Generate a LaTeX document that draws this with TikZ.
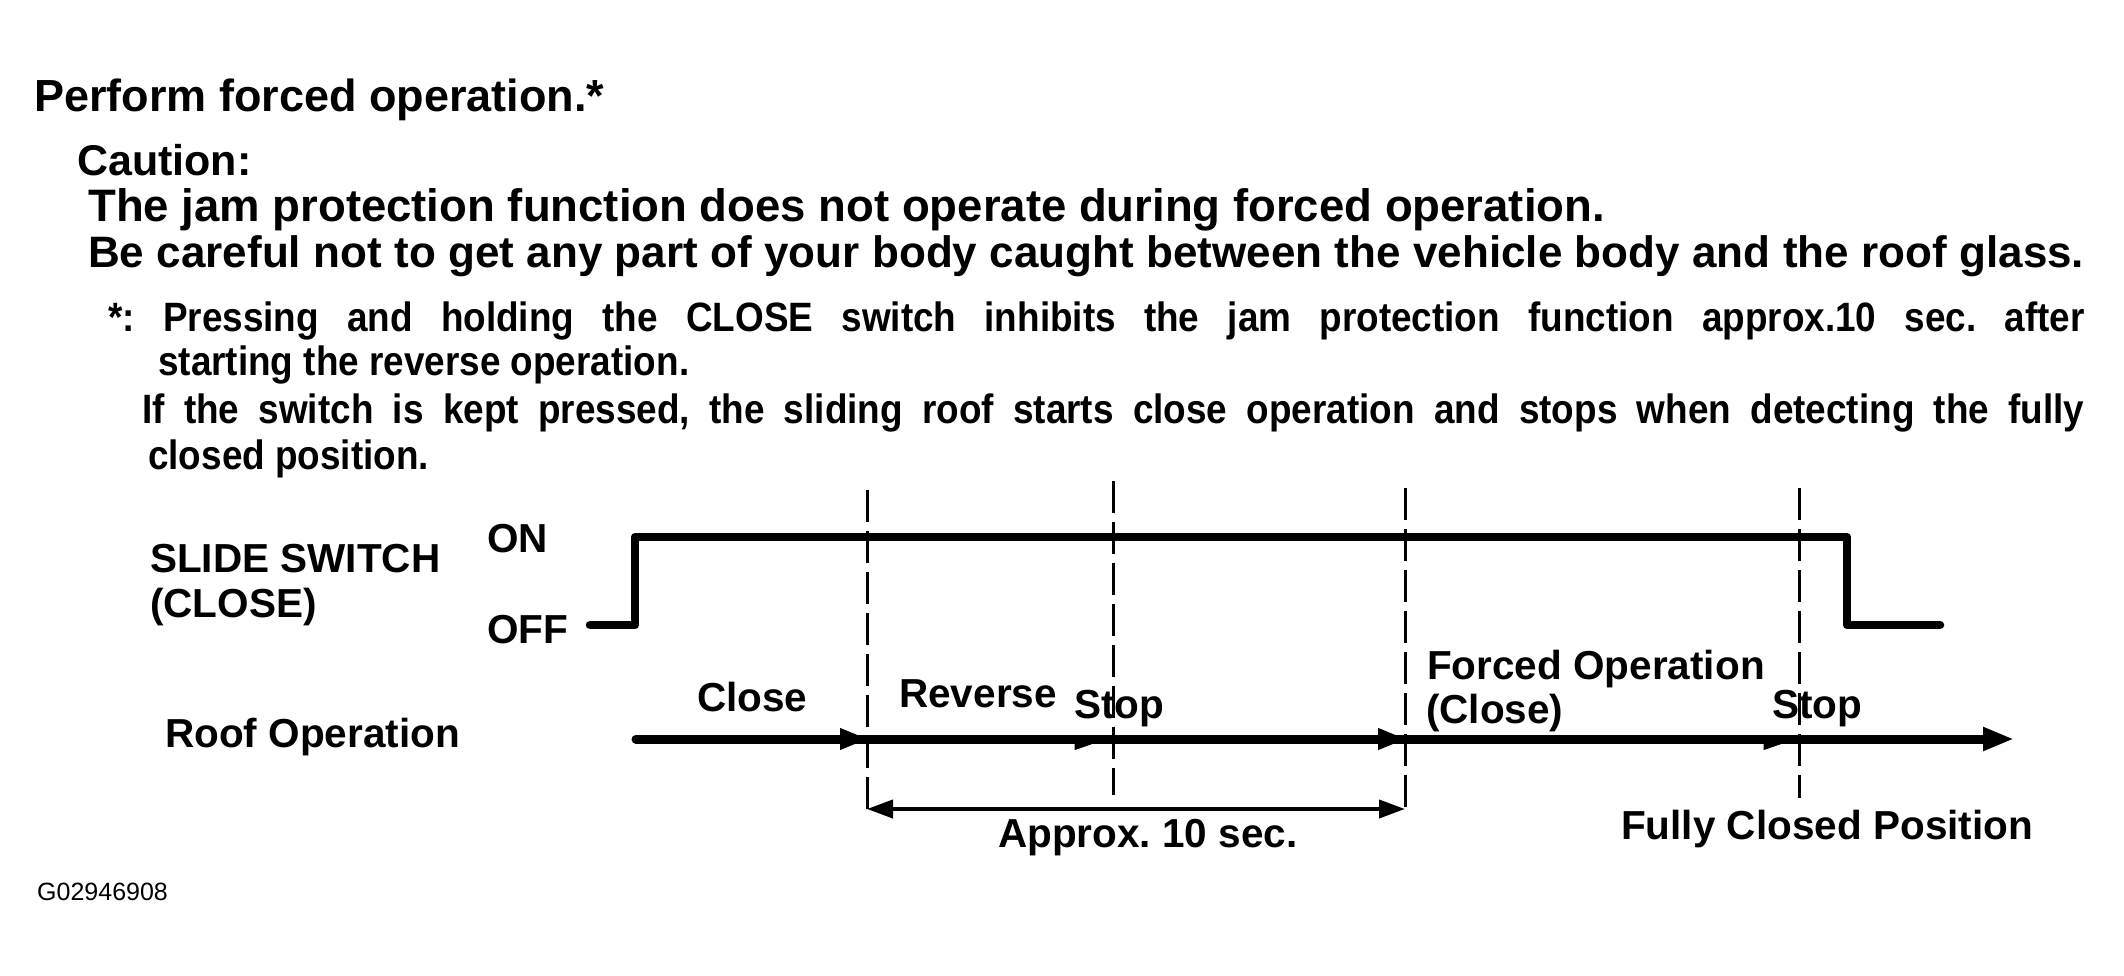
\documentclass[tikz,border=0pt]{standalone}
\usepackage{fontspec}
\usepackage{graphicx}
\setmainfont{Liberation Sans}
\usetikzlibrary{arrows.meta}
\newcommand{\fsz}[1]{\fontsize{#1}{#1}\selectfont}
\newcommand{\narrow}[1]{\scalebox{0.9}[1]{#1}}
\frenchspacing
\begin{document}
\begin{tikzpicture}[x=1pt,y=-1pt,
  txt/.style={anchor=base west, inner sep=0pt, font=\bfseries\fsz{45}},
  note/.style={anchor=base west, inner sep=0pt, font=\bfseries\fsz{41}},
  lab/.style={anchor=base west, inner sep=0pt, font=\bfseries\fsz{40.5}},
  sig/.style={line width=8.5pt, line cap=round, line join=round},
  guide/.style={line width=3pt, dash pattern=on 32pt off 9pt},
  roof/.style={line width=9pt, line cap=round},
  dim/.style={line width=4pt},
  headtip/.style={line width=1pt, -{Triangle[length=27pt,width=22pt]}},
  halftip/.style={line width=1pt, -{Triangle[length=32pt,width=22pt,harpoon,swap]}}
]
\fill[white] (0,0) rectangle (2124,975);
\useasboundingbox (0,0) rectangle (2124,975);

% ---- text block ----
\node[txt] (t1) at (34,111) {Perform forced operation.*};
\node[txt, font=\bfseries\fsz{43}] (t2) at (77,175) {Caution:};
\node[txt, font=\bfseries\fsz{45.5}] (t3) at (88,221) {The jam protection function does not operate during forced operation.};
\node[txt, font=\bfseries\fsz{44}] (t4) at (88,267) {\makebox[1996pt][s]{Be careful not to get any part of your body caught between the vehicle body and the roof glass.}};
\node[note] (t5) at (108,331) {\narrow{\makebox[2196pt][s]{*: Pressing and holding the CLOSE switch inhibits the jam protection function approx.10 sec. after}}};
\node[note] (t6) at (158,375) {\narrow{starting the reverse operation.}};
\node[note] (t7) at (142,423) {\narrow{\makebox[2158pt][s]{If the switch is kept pressed, the sliding roof starts close operation and stops when detecting the fully}}};
\node[note] (t8) at (148,469) {\narrow{closed position.}};

% ---- guides ----
\coordinate (g1t) at (867,490); \coordinate (g1b) at (867,812);
\coordinate (g2t) at (1113,481); \coordinate (g2b) at (1113,795);
\coordinate (g3t) at (1405,488); \coordinate (g3b) at (1405,813);
\coordinate (g4t) at (1799,488); \coordinate (g4b) at (1799,798);
\draw[guide] (g1t) -- (g1b);
\draw[guide] (g2t) -- (g2b);
\draw[guide] (g3t) -- (g3b);
\draw[guide] (g4t) -- (g4b);

% ---- switch signal ----
\coordinate (s0) at (590,625);
\coordinate (s1) at (635,625);
\coordinate (s2) at (635,537);
\coordinate (s3) at (1847,537);
\coordinate (s4) at (1847,625);
\coordinate (s5) at (1940,625);
\draw[sig] (s0) -- (s1) -- (s2) -- (s3) -- (s4) -- (s5);

% ---- roof operation ----
\coordinate (r0) at (636,739);
\coordinate (r1) at (867,739);
\coordinate (r2) at (1108,739);
\coordinate (r3) at (1405,739);
\coordinate (r4) at (1797,739);
\coordinate (r5) at (2014,739);
\draw[roof, -{Triangle[length=31pt,width=22pt]}] (r0) -- (r5);
\draw[headtip] (r0) -- (r1);
\draw[halftip] (r1) -- (r2);
\draw[headtip] (r2) -- (r3);
\draw[halftip] (r3) -- (r4);

% ---- dimension ----
\coordinate (d1) at (867,809);
\coordinate (d3) at (1405,809);
\draw[dim, {Triangle[length=26pt,width=18pt]}-{Triangle[length=26pt,width=18pt]}] (d1) -- (d3);

% ---- labels ----
\node[lab] (sw1) at (150,572) {SLIDE SWITCH};
\node[lab] (sw2) at (150,617) {(CLOSE)};
\node[lab] (on) at (487,552) {ON};
\node[lab] (off) at (487,643) {OFF};
\node[lab] (roofop) at (165,747) {Roof Operation};
\node[lab] (close) at (697,711) {Close};
\node[lab] (rev) at (899,707) {Reverse};
\node[lab] (stop1) at (1074,718) {Stop};
\node[lab] (approx) at (998,847) {Approx. 10 sec.};
\node[lab] (forced) at (1427,679) {Forced Operation};
\node[lab] (fclose) at (1426,723) {(Close)};
\node[lab] (stop2) at (1772,718) {Stop};
\node[lab] (fully) at (1621,839) {Fully Closed Position};
\node[anchor=base west, inner sep=0pt, font=\fsz{25}] (gid) at (37,900) {G02946908};
\end{tikzpicture}
\end{document}
